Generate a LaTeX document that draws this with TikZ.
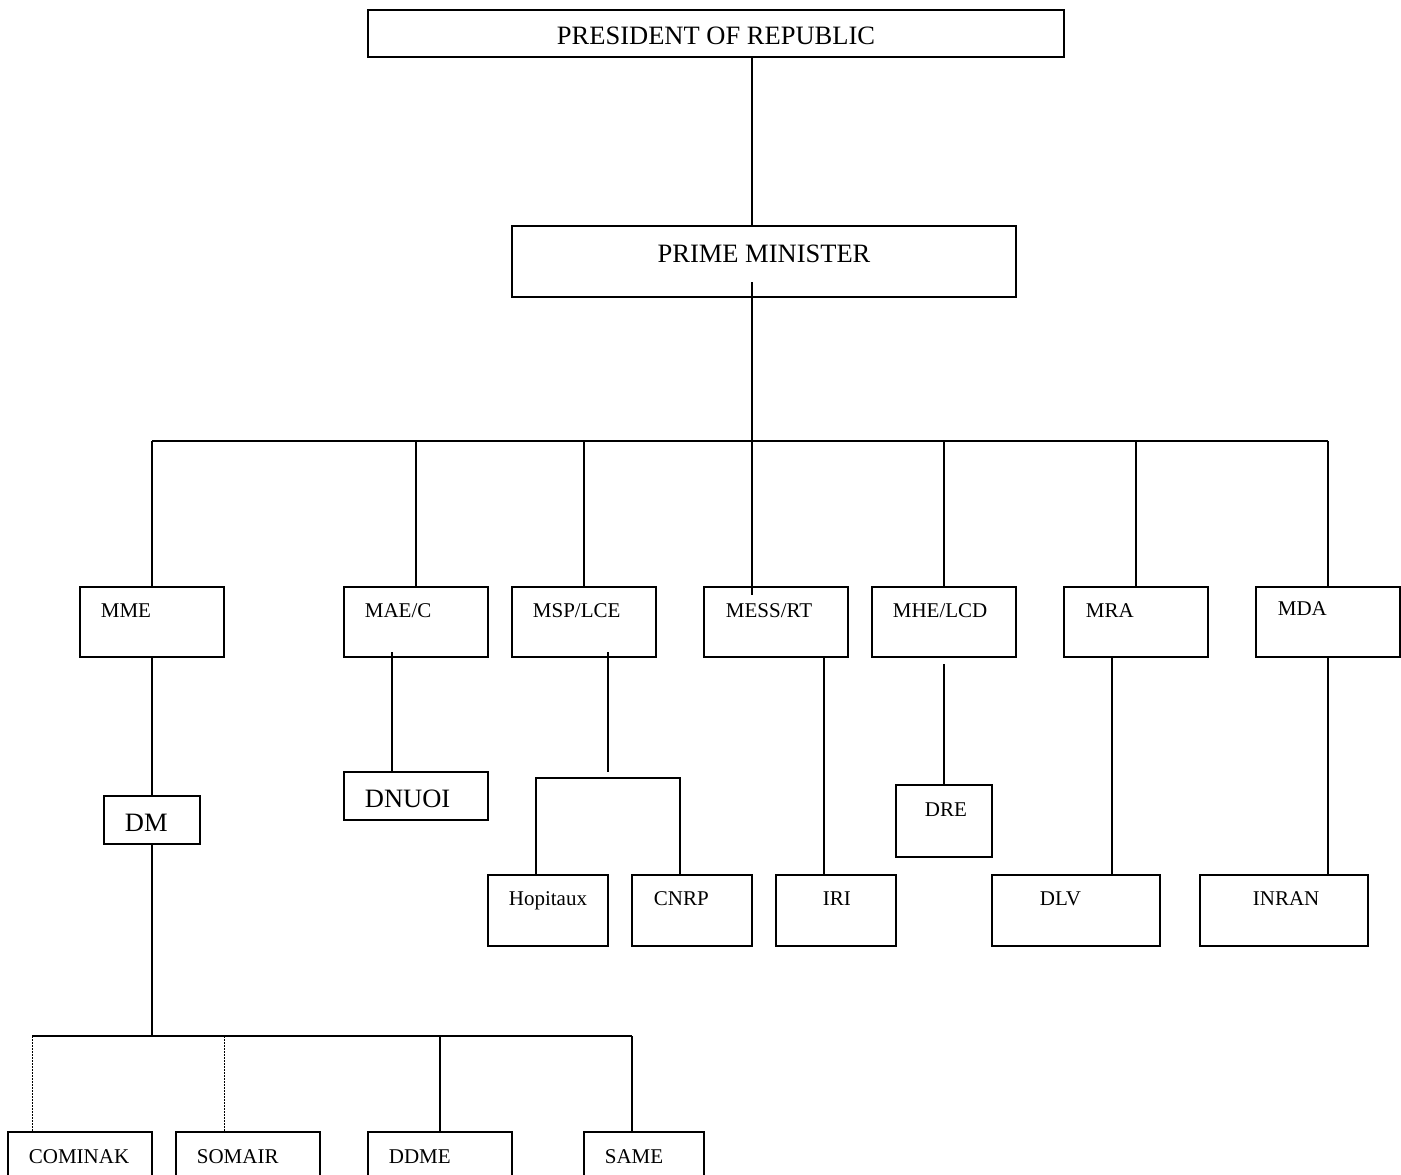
\documentclass[tikz,border=0pt]{standalone}
\usepackage{fontspec}
\setmainfont{Liberation Serif}
\begin{document}
\begin{tikzpicture}[x=1pt,y=-1pt,
  line width=1.8pt,
  box/.style={draw, line width=1.8pt, inner sep=0pt, outer sep=0pt},
  big/.style={inner sep=0pt, anchor=base west, font=\fontsize{26.5}{30}\selectfont},
  small/.style={inner sep=0pt, anchor=base west, font=\fontsize{21}{24}\selectfont},
  dotline/.style={line width=1pt, dash pattern=on 1.5pt off 1.5pt}]
\useasboundingbox[fill=white] (0,0) rectangle (1401,1175);
\begin{scope}
\clip (0,0) rectangle (1401,1175);
% top
\node[box, minimum width=696pt, minimum height=47pt] (pres) at (716,33.5) {};
\node[big, anchor=base] (pres-t) at (716,45) {PRESIDENT OF REPUBLIC};
\node[box, minimum width=504pt, minimum height=71pt] (pm) at (764,261.5) {};
\node[big, anchor=base] (pm-t) at (764,262) {PRIME MINISTER};
% ministries
\node[box, minimum width=144pt, minimum height=70pt] (mme) at (152,622) {};
\node[small] (mme-t) at (100,617) {MME};
\node[box, minimum width=144pt, minimum height=70pt] (mae) at (416,622) {};
\node[small] (mae-t) at (364,617) {MAE/C};
\node[box, minimum width=144pt, minimum height=70pt] (msp) at (584,622) {};
\node[small] (msp-t) at (532,617) {MSP/LCE};
\node[box, minimum width=144pt, minimum height=70pt] (mess) at (776,622) {};
\node[small] (mess-t) at (725,617) {MESS/RT};
\node[box, minimum width=144pt, minimum height=70pt] (mhe) at (944,622) {};
\node[small] (mhe-t) at (892,617) {MHE/LCD};
\node[box, minimum width=144pt, minimum height=70pt] (mra) at (1136,622) {};
\node[small] (mra-t) at (1085,617) {MRA};
\node[box, minimum width=144pt, minimum height=70pt] (mda) at (1328,622) {};
\node[small] (mda-t) at (1277,615) {MDA};
% second level
\node[box, minimum width=96pt, minimum height=48pt] (dm) at (152,820) {};
\node[big] (dm-t) at (124,831) {DM};
\node[box, minimum width=144pt, minimum height=48pt] (dnuoi) at (416,796) {};
\node[big] (dnuoi-t) at (364,807) {DNUOI};
\node[box, minimum width=120pt, minimum height=71pt] (hop) at (548,910.5) {};
\node[small] (hop-t) at (508,905) {Hopitaux};
\node[box, minimum width=120pt, minimum height=71pt] (cnrp) at (692,910.5) {};
\node[small] (cnrp-t) at (653,905) {CNRP};
\node[box, minimum width=120pt, minimum height=71pt] (iri) at (836,910.5) {};
\node[small] (iri-t) at (822,905) {IRI};
\node[box, minimum width=96pt, minimum height=72pt] (dre) at (944,821) {};
\node[small] (dre-t) at (924,816) {DRE};
\node[box, minimum width=168pt, minimum height=71pt] (dlv) at (1076,910.5) {};
\node[small] (dlv-t) at (1039,905) {DLV};
\node[box, minimum width=168pt, minimum height=71pt] (inran) at (1284,910.5) {};
\node[small] (inran-t) at (1252,905) {INRAN};
% bottom row (cut by the page edge)
\node[box, minimum width=144pt, minimum height=60pt] (cominak) at (80,1162) {};
\node[small] (cominak-t) at (28,1163) {COMINAK};
\node[box, minimum width=144pt, minimum height=60pt] (somair) at (248,1162) {};
\node[small] (somair-t) at (196,1163) {SOMAIR};
\node[box, minimum width=144pt, minimum height=60pt] (ddme) at (440,1162) {};
\node[small] (ddme-t) at (388,1163) {DDME};
\node[box, minimum width=120pt, minimum height=60pt] (same) at (644,1162) {};
\node[small] (same-t) at (604,1163) {SAME};
% coordinates
\coordinate (pmx) at (752,282);
\coordinate (busL) at (152,441);
\coordinate (busR) at (1328,441);
\coordinate (messin) at (752,595);
\coordinate (maein) at (392,652);
\coordinate (mspin) at (608,652);
\coordinate (mspend) at (608,772);
\coordinate (brL) at (536,778);
\coordinate (brR) at (680,778);
\coordinate (irix) at (824,657);
\coordinate (mhein) at (944,664);
\coordinate (dlvx) at (1112,657);
\coordinate (b2L) at (32,1036);
\coordinate (b2M) at (152,1036);
\coordinate (b2S) at (224,1036);
\coordinate (b2R) at (632,1036);
% connectors
\draw (pres.south -| pmx) -- (pm.north -| pmx);
\draw (pmx) -- (pmx |- busL);
\draw (busL) -- (busR);
\draw (busL) -- (mme.north);
\draw (mae.north |- busL) -- (mae.north);
\draw (msp.north |- busL) -- (msp.north);
\draw (messin |- busL) -- (messin);
\draw (mhe.north |- busL) -- (mhe.north);
\draw (mra.north |- busL) -- (mra.north);
\draw (busR) -- (mda.north);
\draw (mme.south) -- (dm.north);
\draw (dm.south) -- (b2M);
\draw (b2L) -- (b2R);
\draw[dotline] (b2L) -- (b2L |- cominak.north);
\draw[dotline] (b2S) -- (b2S |- somair.north);
\draw (ddme.north |- b2L) -- (ddme.north);
\draw (b2R) -- (b2R |- same.north);
\draw (maein) -- (maein |- dnuoi.north);
\draw (mspin) -- (mspend);
\draw (brL |- hop.north) -- (brL) -- (brR) -- (brR |- cnrp.north);
\draw (irix) -- (irix |- iri.north);
\draw (mhein) -- (dre.north);
\draw (dlvx) -- (dlvx |- dlv.north);
\draw (mda.south) -- (mda.south |- inran.north);
\end{scope}
\end{tikzpicture}
\end{document}
